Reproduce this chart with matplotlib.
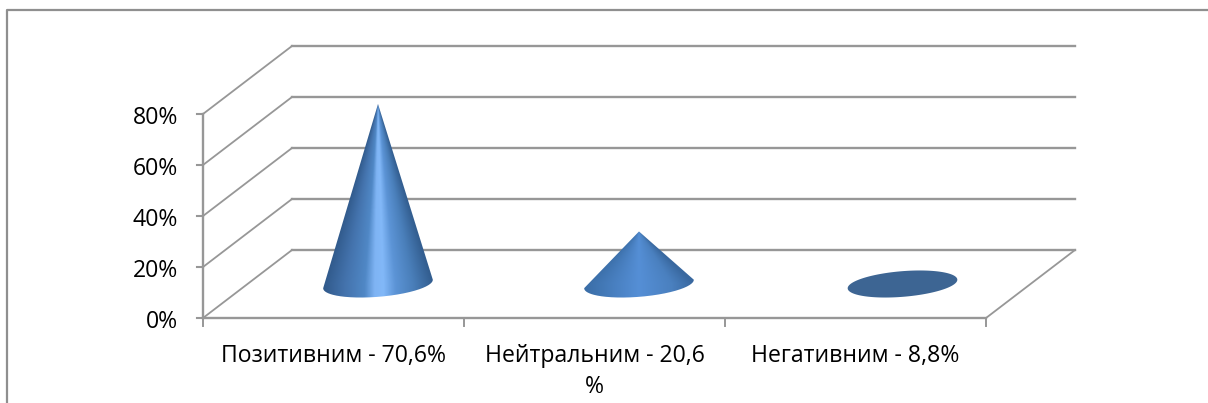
import numpy as np
import matplotlib
matplotlib.use("Agg")
import matplotlib.pyplot as plt
from matplotlib.path import Path
from matplotlib.patches import PathPatch
from matplotlib.colors import LinearSegmentedColormap

categories = ["Позитивним - 70,6%", "Нейтральним - 20,6\n%", "Негативним - 8,8%"]
heights = [70.6, 20.6, 0.0]
y_ticks = [0, 20, 40, 60, 80]
y_labels = ["0%", "20%", "40%", "60%", "80%"]

W, H = 1208, 403
X0, UX = 203.0, 261.0     # pixel of category 0, pixels per category
Y0, UY = 318.0, 2.55      # pixel of 0%, pixels per percent
DX, DY = 89.0 / UX, 68.0 / UY  # 3-D depth expressed in data units

GRID = "#979797"
FS = 16.6
fig = plt.figure(figsize=(W / 100, H / 100), dpi=100, facecolor="white")
ax = fig.add_axes([0, 0, 1, 1])
ax.set_xlim(-X0 / UX, (W - X0) / UX)
ax.set_ylim(-(H - Y0) / UY, Y0 / UY)
ax.axis("off")

# outer frame
px = lambda x: (x - X0) / UX
py = lambda y: (Y0 - y) / UY
ax.plot([px(7), px(7), px(1208)], [py(403), py(10), py(10)], color="#8f8f8f", lw=1.6, zorder=1)

# walls and floor
for v in y_ticks:
    ax.plot([0, DX], [v, v + DY], color=GRID, lw=1.3, zorder=2)
    ax.plot([DX, 3 + DX], [v + DY, v + DY], color=GRID, lw=1.7, zorder=2)
    ax.plot([-6 / UX, 0], [v, v], color=GRID, lw=1.5, zorder=2)
ax.plot([0, 0], [0, y_ticks[-1]], color=GRID, lw=1.7, zorder=2)
ax.plot([0, 3], [0, 0], color=GRID, lw=1.7, zorder=2)
ax.plot([3, 3 + DX], [0, DY], color=GRID, lw=1.3, zorder=2)
for i in range(len(categories) + 1):
    ax.plot([i, i], [0, -8 / UY], color=GRID, lw=1.4, zorder=2)

for v, s in zip(y_ticks, y_labels):
    ax.text(-25 / UX, v - 1.6, s, ha="right", va="center", fontsize=FS,
            family="Open Sans", color="black")
for i, s in enumerate(categories):
    ax.text(i + 0.5, -26 / UY, s, ha="center", va="top", fontsize=FS,
            family="Open Sans", color="black", linespacing=1.39)

# cones
bright = LinearSegmentedColormap.from_list("b", [(0, "#30598a"), (.2, "#4473ad"), (.38, "#5088c6"),
                                                 (.47, "#7fb4f4"), (.55, "#82b8f8"), (.66, "#5c94d6"),
                                                 (.82, "#4a7fba"), (1, "#335e90")])
mild = LinearSegmentedColormap.from_list("m", [(0, "#3a6da6"), (.5, "#558fd6"), (.8, "#4a80bf"), (1, "#39689f")])
a, b, tilt = 55.0, 12.8, np.radians(4.7)
t = np.linspace(0, 2 * np.pi, 360)
ex = a * np.cos(t) * np.cos(tilt) - b * np.sin(t) * np.sin(tilt)
ey = a * np.cos(t) * np.sin(tilt) + b * np.sin(t) * np.cos(tilt)
for i, h in enumerate(heights):
    cx, cy = i + 0.5 + DX / 2, DY / 2
    xs, ys = cx + ex / UX, cy + ey / UY
    if h <= 0:
        ax.fill(xs + 2.5 / UX, ys, color="#3d6593", lw=0, zorder=4)
        continue
    lo, hi = np.argmin(xs), np.argmax(xs)
    idx = np.r_[lo:len(t), 0:hi + 1] if lo > hi else np.arange(lo, hi + 1)
    verts = np.column_stack([xs[idx], ys[idx]])
    verts = np.vstack([verts, [cx, cy + h], verts[0]])
    patch = PathPatch(Path(verts), transform=ax.transData, fc="none", ec="none")
    ax.add_patch(patch)
    gx = np.linspace(cx - a / UX, cx + a / UX, 220)
    gy = np.linspace(cy - 8, cy + h + 1, 400)
    XX, YY = np.meshgrid(gx, gy)
    half = np.maximum(1 - np.clip(YY - cy, 0, None) / h, 1e-3) * a / UX
    u = np.clip((XX - cx) / half * 0.5 + 0.5, 0, 1)
    img = ax.imshow(u, cmap=bright if h > 50 else mild, aspect="auto", origin="lower",
                    extent=[gx[0], gx[-1], gy[0], gy[-1]], zorder=4, vmin=0, vmax=1,
                    interpolation="bilinear")
    img.set_clip_path(patch)
ax.set_xlim(-X0 / UX, (W - X0) / UX)
ax.set_ylim(-(H - Y0) / UY, Y0 / UY)

fig.savefig("out.png", dpi=100, facecolor="white")
